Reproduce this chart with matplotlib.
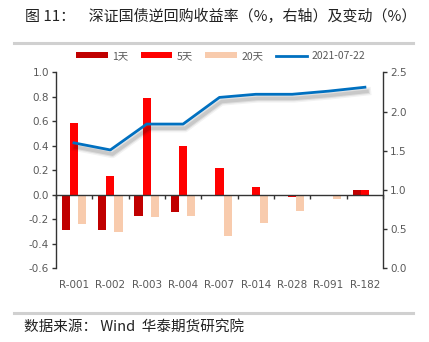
import matplotlib
matplotlib.use("Agg")
import matplotlib.pyplot as plt
import matplotlib.patheffects as pe
from matplotlib.lines import Line2D
import numpy as np

plt.rcParams['font.family'] = ['Noto Sans CJK SC', 'DejaVu Sans']

categories = ["R-001", "R-002", "R-003", "R-004", "R-007", "R-014", "R-028", "R-091", "R-182"]
chg_1d = [-0.29, -0.29, -0.17, -0.14, -0.003, -0.003, -0.01, -0.01, 0.04]
chg_5d = [0.59, 0.155, 0.79, 0.40, 0.22, 0.06, -0.015, -0.01, 0.04]
chg_20d = [-0.24, -0.30, -0.18, -0.17, -0.34, -0.23, -0.13, -0.035, -0.005]
rate_0722 = [1.60, 1.51, 1.84, 1.84, 2.18, 2.22, 2.22, 2.26, 2.31]

left_ticks = [-0.6, -0.4, -0.2, 0.0, 0.2, 0.4, 0.6, 0.8, 1.0]
right_ticks = [0.0, 0.5, 1.0, 1.5, 2.0, 2.5]

c1 = "#C00000"
c5 = "#FF0000"
c20 = "#F8CBAD"
cline = "#0070C0"
tick_gray = "#595959"

fig = plt.figure(figsize=(4.29, 3.42), dpi=100)
ax = fig.add_axes([0.130, 0.2155, 0.763, 0.573])
x = np.arange(len(categories))
w = 0.225
b1 = ax.bar(x - w, chg_1d, w, color=c1, label="1天")
b5 = ax.bar(x, chg_5d, w, color=c5, label="5天")
b20 = ax.bar(x + w, chg_20d, w, color=c20, label="20天")
ax.set_xlim(-0.5, len(categories) - 0.5)
ax.set_ylim(-0.6, 1.0)
ax.set_yticks(left_ticks)
ax.set_yticklabels([f"{v:.1f}" for v in left_ticks])

for s in ["top", "right"]:
    ax.spines[s].set_visible(False)
ax.spines["bottom"].set_position(("data", 0))
ax.spines["bottom"].set_linewidth(1.0)
ax.spines["left"].set_linewidth(1.0)
ax.spines["bottom"].set_color("#333333")
ax.spines["left"].set_color("#333333")
ax.set_xticks(np.arange(len(categories) + 1) - 0.5)
ax.set_xticklabels([])
ax.tick_params(axis="x", direction="out", length=3, width=1, color="#333333")
ax.tick_params(axis="y", direction="out", length=3, width=1, labelsize=7.5,
               labelcolor=tick_gray, pad=2, color="#333333")
for i, c in enumerate(categories):
    ax.text(i, -0.085, c, transform=ax.get_xaxis_transform(), ha="center", va="center",
            fontsize=7.5, color=tick_gray, family=["DejaVu Sans"])

ax2 = ax.twinx()
shadow = [pe.SimpleLineShadow(offset=(1.5, -3), shadow_color="black", alpha=0.05, linewidth=6),
          pe.SimpleLineShadow(offset=(1.5, -3), shadow_color="black", alpha=0.08, linewidth=4),
          pe.SimpleLineShadow(offset=(1.5, -3), shadow_color="black", alpha=0.10, linewidth=2.5),
          pe.Normal()]
ln, = ax2.plot(x, rate_0722, color=cline, lw=2.0, label="2021-07-22", path_effects=shadow)
ax2.set_ylim(0, 2.5)
ax2.set_yticks(right_ticks)
ax2.set_yticklabels([f"{v:.1f}" for v in right_ticks])
for s in ["top", "left", "bottom"]:
    ax2.spines[s].set_visible(False)
ax2.spines["right"].set_linewidth(1.0)
ax2.spines["right"].set_color("#333333")
ax2.tick_params(axis="y", direction="out", length=3, width=1, labelsize=7.5,
                labelcolor=tick_gray, pad=2, color="#333333")

for a in (ax, ax2):
    for lab in a.get_yticklabels():
        lab.set_family(["DejaVu Sans"])

leg_line = Line2D([], [], color=cline, lw=2.0)
leg = fig.legend(handles=[b1, b5, b20, leg_line], labels=["1天", "5天", "20天", "2021-07-22"],
                 loc="center", bbox_to_anchor=(0.515, 0.836), ncol=4, frameon=False,
                 fontsize=7.5, handlelength=3.0, handleheight=0.5, columnspacing=1.2,
                 handletextpad=0.45)
for t in leg.get_texts():
    t.set_color(tick_gray)

fig.text(0.058, 0.951, "图 11：    深证国债逆回购收益率（%，右轴）及变动（%）", fontsize=10.8,
         ha="left", va="center", color="#222222")
fig.add_artist(Line2D([0.033, 0.963], [0.873, 0.873], color="#D0D0D0", lw=2.2))
fig.add_artist(Line2D([0.033, 0.963], [0.084, 0.084], color="#D0D0D0", lw=2.2))
fig.text(0.055, 0.044, "数据来源： Wind  华泰期货研究院", fontsize=10.5, ha="left", va="center",
         color="#222222")

fig.savefig("out.png", dpi=100)
